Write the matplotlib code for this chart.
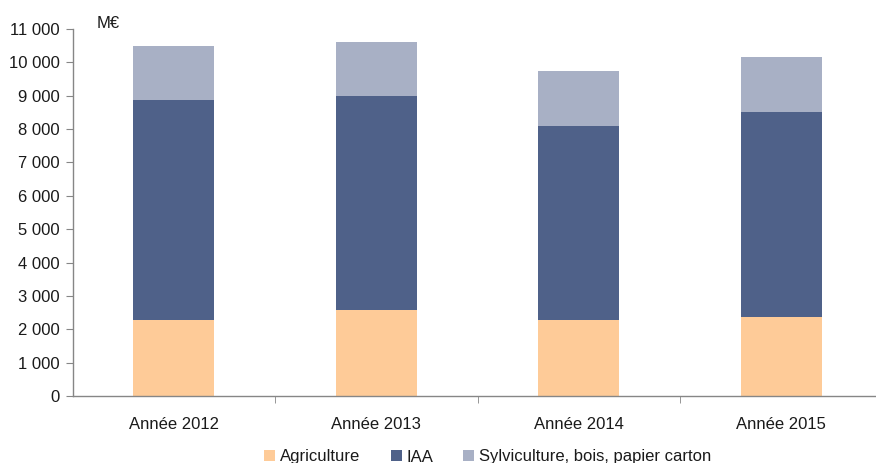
import matplotlib
matplotlib.use("Agg")
import matplotlib.pyplot as plt
from matplotlib.ticker import FixedLocator, FuncFormatter

plt.rcParams['font.family'] = ['Liberation Sans', 'DejaVu Sans']

categories = ["Année 2012", "Année 2013", "Année 2014", "Année 2015"]
agriculture = [2280, 2580, 2280, 2370]
iaa = [6590, 6410, 5810, 6140]
sylviculture = [1620, 1620, 1650, 1650]
series_names = ["Agriculture", "IAA", "Sylviculture, bois, papier carton"]
colors = ["#FECB98", "#4F6189", "#A8B0C5"]

fs = 12

fig = plt.figure(figsize=(8.76, 4.63), dpi=100)
ax = fig.add_axes([72.5/876, 1-396/463, 810/876, (396-29)/463])

x = list(range(len(categories)))
w = 0.4
b1 = ax.bar(x, agriculture, w, color=colors[0], label=series_names[0], zorder=2)
bottom2 = agriculture
b2 = ax.bar(x, iaa, w, bottom=bottom2, color=colors[1], label=series_names[1], zorder=2)
bottom3 = [a + b for a, b in zip(agriculture, iaa)]
b3 = ax.bar(x, sylviculture, w, bottom=bottom3, color=colors[2], label=series_names[2], zorder=2)

ax.set_xlim(-0.5, len(categories) - 0.5)
ax.set_ylim(0, 11000)
ax.set_yticks(range(0, 11001, 1000))
ax.yaxis.set_major_formatter(FuncFormatter(lambda v, p: f"{int(v):,}".replace(",", " ")))
ax.set_xticks(x)
ax.set_xticklabels(categories)
ax.xaxis.set_minor_locator(FixedLocator([i + 0.5 for i in range(len(categories) - 1)]))

for s in ["top", "right"]:
    ax.spines[s].set_visible(False)
for s in ["left", "bottom"]:
    ax.spines[s].set_color("#868686")
    ax.spines[s].set_linewidth(1.0)

ax.tick_params(axis='y', direction='out', length=5, color="#868686", labelsize=fs, labelcolor="#1a1a1a", pad=4)
ax.tick_params(axis='x', which='major', length=0, labelsize=fs, labelcolor="#1a1a1a", pad=15)
ax.tick_params(axis='x', which='minor', direction='out', length=5, color="#868686")

fig.text(97/876, 1-23/463, "M€", fontsize=fs, color="#1a1a1a", va='center', ha='left')

fig.legend(handles=[b1, b2, b3], labels=series_names, loc='center', bbox_to_anchor=(488/876, 1-457/463),
           ncol=3, frameon=False, fontsize=fs, handlelength=0.66, handleheight=0.66,
           handletextpad=0.3, columnspacing=1.8, labelcolor="#1a1a1a")

fig.savefig("out.png", dpi=100)
